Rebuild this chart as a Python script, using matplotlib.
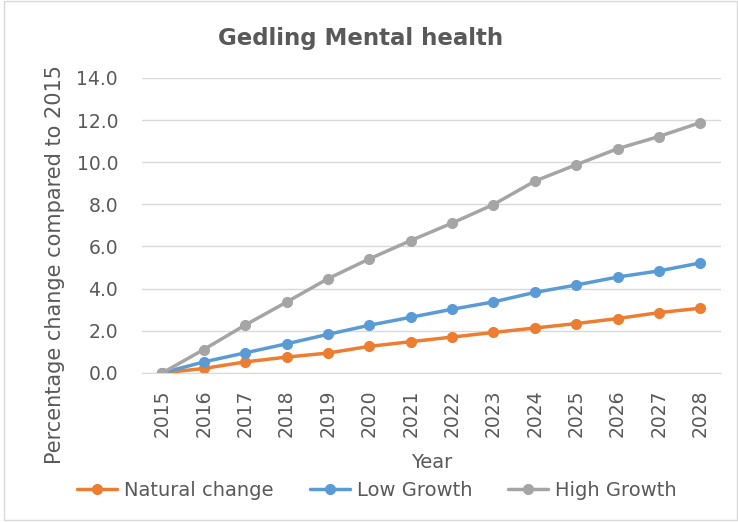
import matplotlib
matplotlib.use("Agg")
import matplotlib.pyplot as plt
from matplotlib.patches import Rectangle
import numpy as np

years = [str(y) for y in range(2015, 2029)]
natural_change = [0.0, 0.21, 0.52, 0.75, 0.94, 1.26, 1.48, 1.70, 1.92, 2.13, 2.34, 2.58, 2.86, 3.07]
low_growth = [0.0, 0.52, 0.95, 1.38, 1.83, 2.26, 2.64, 3.02, 3.37, 3.82, 4.17, 4.55, 4.84, 5.22]
high_growth = [0.0, 1.11, 2.27, 3.36, 4.47, 5.41, 6.28, 7.11, 7.99, 9.10, 9.88, 10.64, 11.22, 11.88]
series_names = ["Natural change", "Low Growth", "High Growth"]
colors = ["#ED7D31", "#5B9BD5", "#A5A5A5"]

txt = "#595959"

fig = plt.figure(figsize=(7.38, 5.23), dpi=100)
ax = fig.add_axes([0.192, 0.287, 0.785, 0.564])

x = np.arange(len(years))
for vals, name, c in zip([natural_change, low_growth, high_growth], series_names, colors):
    ax.plot(x, vals, color=c, lw=2.5, marker="o", ms=7, label=name, solid_capstyle="round")

ax.set_xlim(-0.5, len(years) - 0.5)
ax.set_ylim(0, 14)
ax.set_yticks(np.arange(0, 14.1, 2))
ax.set_yticklabels(["%.1f" % v for v in np.arange(0, 14.1, 2)], fontsize=13.5, color=txt)
ax.set_xticks(x)
ax.set_xticklabels(years, rotation=90, fontsize=13.5, color=txt)
ax.tick_params(axis="y", length=0, pad=17)
ax.tick_params(axis="x", length=0, pad=12)
ax.grid(axis="y", color="#D9D9D9", lw=1)
ax.set_axisbelow(True)
for s in ["top", "right", "left"]:
    ax.spines[s].set_visible(False)
ax.spines["bottom"].set_color("#D9D9D9")

fig.text(55 / 738, 1 - 265 / 523, "Percentage change compared to 2015", rotation=90,
         ha="center", va="center", fontsize=15, color=txt)
fig.text(432 / 738, 1 - 462 / 523, "Year", ha="center", va="center", fontsize=14, color=txt)
fig.text(0.489, 1 - 38 / 523, "Gedling Mental health", ha="center", va="center",
         fontsize=16.5, fontweight="bold", color=txt)

fig.legend(loc="center", bbox_to_anchor=(377 / 738, 1 - 490 / 523), ncol=3, frameon=False,
           fontsize=14, labelcolor=txt, handlelength=2.06, columnspacing=1.85,
           handletextpad=0.35)

fig.patches.append(Rectangle((0.006, 0.005), 0.993, 0.993, transform=fig.transFigure,
                             fill=False, edgecolor="#D9D9D9", lw=1))

fig.savefig("out.png", dpi=100)
